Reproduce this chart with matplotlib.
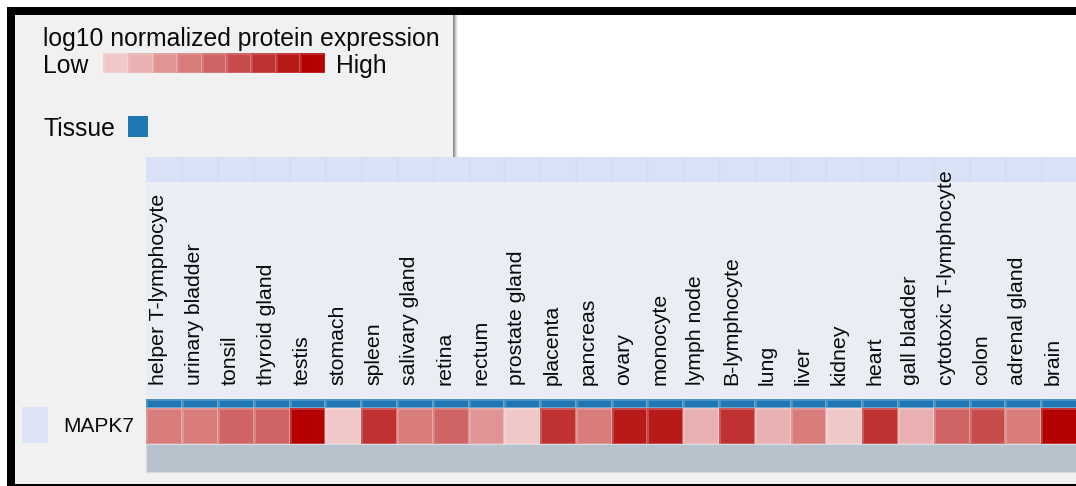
import numpy as np
import matplotlib
matplotlib.use("Agg")
import matplotlib.pyplot as plt
from matplotlib.colors import ListedColormap, BoundaryNorm
from matplotlib.patches import Rectangle
from matplotlib.transforms import ScaledTranslation

# ---- data ----
tissues = ["helper T-lymphocyte", "urinary bladder", "tonsil", "thyroid gland",
           "testis", "stomach", "spleen", "salivary gland", "retina", "rectum",
           "prostate gland", "placenta", "pancreas", "ovary", "monocyte",
           "lymph node", "B-lymphocyte", "lung", "liver", "kidney", "heart",
           "gall bladder", "cytotoxic T-lymphocyte", "colon", "adrenal gland",
           "brain"]
# expression bin (1 = low ... 9 = high)
expr_level = [4, 4, 5, 5, 9, 1, 7, 4, 5, 3, 1, 7, 4, 8, 8, 2, 7, 2, 4, 1, 7,
              2, 5, 6, 4, 9]
tissue_group = ["Tissue"] * len(tissues)
gene = "MAPK7"

level_colors = ["#f0c8c8", "#e8b0b0", "#e09494", "#d87c7c", "#d06464",
                "#c84c4c", "#c03232", "#b81a1a", "#b40000"]
group_colors = {"Tissue": "#1f77b4"}

# ---- figure / layout helpers (pixel coords, origin top-left) ----
W, H, DPI = 1076, 486, 100
plt.rcParams["font.family"] = ["Liberation Sans", "DejaVu Sans"]
TXT = "#0a0a0a"

fig = plt.figure(figsize=(W / DPI, H / DPI), dpi=DPI, facecolor="white")


def frac(x0, y0, x1, y1):
    return [x0 / W, 1 - y1 / H, (x1 - x0) / W, (y1 - y0) / H]


def box(x0, y0, x1, y1, color, z=-5):
    l, b, w, h = frac(x0, y0, x1, y1)
    fig.patches.append(Rectangle((l, b), w, h, transform=fig.transFigure,
                                 facecolor=color, edgecolor="none", zorder=z))


def text(x, y, s, **kw):
    fig.text(x / W, 1 - y / H, s, **kw)


# page background, white pane, drop shadow, black frame
box(15, 15, W, 484, "#f1f1f1")
box(453, 15, W, 157, "white")
for i, g in enumerate(["#8a8a8a", "#a8a8a8", "#c6c6c6", "#e0e0e0", "#f2f2f2"]):
    box(453 + i, 15, 454 + i, 157, g)
box(6.7, 6.7, W, 15, "black", z=10)
box(6.7, 6.7, 15, H, "black", z=10)
box(6.7, 484, W, H, "black", z=10)

# heatmap label pane
X0, X1 = 146.4, 1077
box(X0, 182.3, W, 399, "#eaeef4")
box(21.7, 407, 48.3, 442.5, "#dce3f5")

# ---- legend ----
text(43.3, 46, "log10 normalized protein expression", fontsize=17.8,
     va="baseline", color=TXT)
text(43.3, 73, "Low", fontsize=17.8, va="baseline", color=TXT)
text(336.5, 73, "High", fontsize=17.8, va="baseline", color=TXT)
text(43.3, 136, "Tissue", fontsize=17.8, va="baseline", color=TXT)

cmap = ListedColormap(level_colors)
norm = BoundaryNorm(np.arange(0.5, len(level_colors) + 1.5), cmap.N)

ax_cb = fig.add_axes(frac(103.3, 53, 325, 73))
ax_cb.pcolormesh(np.arange(1, len(level_colors) + 1)[None, :], cmap=cmap,
                 norm=norm, edgecolors=(1, 1, 1, 0.15), linewidth=0.8)
ax_cb.set_axis_off()

ax_lg = fig.add_axes(frac(128, 116, 148, 137))
ax_lg.set_facecolor(group_colors["Tissue"])
ax_lg.set_xticks([]); ax_lg.set_yticks([])
for s in ax_lg.spines.values():
    s.set_visible(False)

n = len(tissues)

# header strip with faint column separators
ax_head = fig.add_axes(frac(X0, 157, X1, 182.3))
ax_head.set_facecolor("#d9e1f7")
ax_head.vlines(np.arange(1, n), 0, 1, color="#d3dbf1", lw=1)
ax_head.set_xlim(0, n); ax_head.set_ylim(0, 1)
ax_head.set_xticks([]); ax_head.set_yticks([])
for s in ax_head.spines.values():
    s.set_visible(False)

# group band + tissue labels
grp_names = list(group_colors)
grp_idx = np.array([grp_names.index(g) for g in tissue_group])[None, :]
ax_band = fig.add_axes(frac(X0, 399, X1, 407.5))
ax_band.pcolormesh(grp_idx, cmap=ListedColormap(list(group_colors.values())),
                   vmin=-0.5, vmax=len(grp_names) - 0.5,
                   edgecolors=(1, 1, 1, 0.2), linewidth=0.8)
ax_band.set_xlim(0, n)
ax_band.xaxis.tick_top()
ax_band.set_xticks(np.arange(n) + 0.5)
ax_band.set_xticklabels(tissues, rotation=90, fontsize=15.3, color=TXT)
ax_band.tick_params(axis="x", length=0, pad=10)
ax_band.set_yticks([])
for s in ax_band.spines.values():
    s.set_visible(False)
shift = ScaledTranslation(-5.5 / DPI, 0, fig.dpi_scale_trans)
for lab in ax_band.get_xticklabels():
    lab.set_transform(lab.get_transform() + shift)

# expression row
ax_hm = fig.add_axes(frac(X0, 407.5, X1, 444.4))
ax_hm.pcolormesh(np.array(expr_level)[None, :], cmap=cmap, norm=norm,
                 edgecolors=(1, 1, 1, 0.2), linewidth=1)
ax_hm.set_xlim(0, n)
ax_hm.set_axis_off()
text(63.7, 426, gene, fontsize=15, va="center", color=TXT)

# empty annotation row below
ax_na = fig.add_axes(frac(X0, 444.4, X1, 472.3))
ax_na.set_facecolor("#b8c2cc")
ax_na.set_xticks([]); ax_na.set_yticks([])
for s in ax_na.spines.values():
    s.set_color("#d4dbe2")

fig.savefig("out.png", dpi=DPI, facecolor="white")
